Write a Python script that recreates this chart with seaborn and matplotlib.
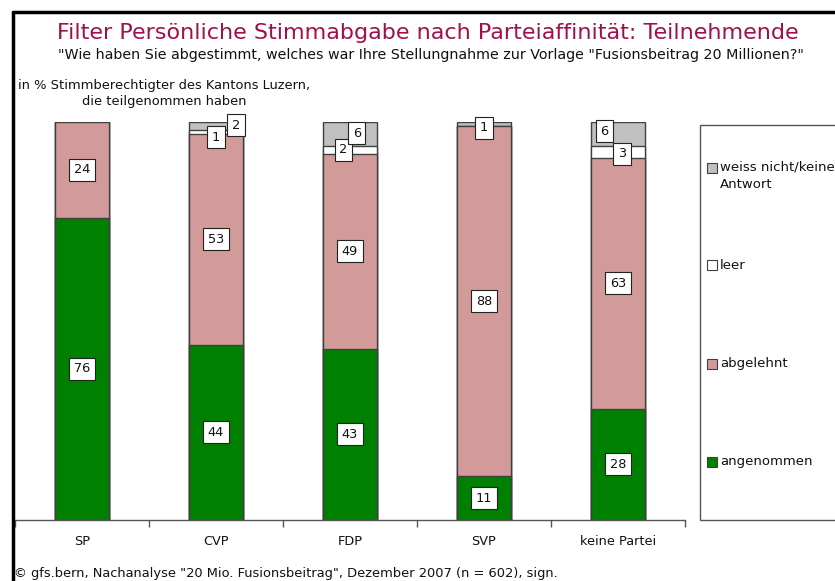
import matplotlib
matplotlib.use("Agg")
import matplotlib.pyplot as plt
import seaborn as sns
import pandas as pd
import numpy as np
from matplotlib.patches import Rectangle
from matplotlib.lines import Line2D

categories = ["SP", "CVP", "FDP", "SVP", "keine Partei"]
angenommen = [76, 44, 43, 11, 28]
abgelehnt = [24, 53, 49, 88, 63]
leer = [0, 1, 2, 0, 3]
weiss_nicht = [0, 2, 6, 1, 6]

series_names = ["angenommen", "abgelehnt", "leer", "weiss nicht/keine\nAntwort"]
colors = ["#008000", "#D39A9A", "#FFFFFF", "#C0C0C0"]

sns.set_theme(style="white")
plt.rcParams["font.family"] = ["DejaVu Sans"]

fig = plt.figure(figsize=(8.35, 5.81), dpi=100)
ax = fig.add_axes([15/835, 1-520/581, 670/835, 398/581])

df = pd.DataFrame({"Partei": categories, "angenommen": angenommen,
                   "abgelehnt": abgelehnt, "leer": leer, "wn": weiss_nicht})
cols = ["angenommen", "abgelehnt", "leer", "wn"]
cum = df[cols].cumsum(axis=1)

# draw from top cumulative downward so lower segments overlay
for i in range(3, -1, -1):
    sns.barplot(x=df["Partei"], y=cum[cols[i]], color=colors[i], ax=ax,
                width=0.41, edgecolor="#404040", linewidth=1.0,
                saturation=1)

ax.set_ylim(0, 100)
ax.set_xlim(-0.5, 4.5)
ax.set_ylabel("")
ax.set_xlabel("")
ax.set_yticks([])
for s in ["left", "right", "top"]:
    ax.spines[s].set_visible(False)
ax.spines["bottom"].set_color("#555555")
ax.spines["bottom"].set_linewidth(1.0)
ax.set_xticks(range(len(categories)))
ax.set_xticklabels(categories, fontsize=9.3, color="#111111")
ax.tick_params(axis="x", which="major", length=0, pad=11)
ax.set_xticks(np.arange(-0.5, 5, 1), minor=True)
ax.tick_params(axis="x", which="minor", length=5, width=1, color="#555555",
               direction="out", bottom=True)

# value labels
bbox = dict(boxstyle="square,pad=0.35", fc="white", ec="#222222", lw=0.8)
small_dx = {("CVP", "leer"): 0.0, ("CVP", "wn"): 0.15,
            ("FDP", "leer"): -0.05, ("FDP", "wn"): 0.05,
            ("SVP", "wn"): 0.0,
            ("keine Partei", "leer"): 0.03, ("keine Partei", "wn"): -0.10}
small_dy = {("CVP", "leer"): -1.3, ("CVP", "wn"): 0.2,
            ("FDP", "wn"): 0.2, ("SVP", "wn"): -1.0,
            ("keine Partei", "leer"): -0.5, ("keine Partei", "wn"): 0.7}
for j, cat in enumerate(categories):
    base = 0
    for c in cols:
        v = df.loc[j, c]
        if v > 0:
            cy = base + v / 2
            dx = small_dx.get((cat, c), 0)
            dy = small_dy.get((cat, c), 0)
            ax.text(j + dx, cy + dy, f"{v}", ha="center", va="center",
                    fontsize=9.3, color="#111111", bbox=bbox, clip_on=False,
                    zorder=10)
        base += v

# frame lines
fig.add_artist(Line2D([13/835, 13/835], [0, 1-12/581], color="black",
                      lw=2.5, transform=fig.transFigure))
fig.add_artist(Line2D([13/835, 1], [1-12/581, 1-12/581], color="black",
                      lw=2.5, transform=fig.transFigure))

fig.text(428/835, 1-33/581,
         "Filter Persönliche Stimmabgabe nach Parteiaffinität: Teilnehmende",
         ha="center", va="center", fontsize=16, color="#A0104A")
fig.text(431/835, 1-55/581,
         "\"Wie haben Sie abgestimmt, welches war Ihre Stellungnahme zur Vorlage \"Fusionsbeitrag 20 Millionen?\"",
         ha="center", va="center", fontsize=10.3, color="#111111")
fig.text(164/835, 1-93/581,
         "in % Stimmberechtigter des Kantons Luzern,\ndie teilgenommen haben",
         ha="center", va="center", fontsize=9.4, color="#111111",
         linespacing=1.3)
fig.text(14/835, 1-574/581,
         "© gfs.bern, Nachanalyse \"20 Mio. Fusionsbeitrag\", Dezember 2007 (n = 602), sign.",
         ha="left", va="center", fontsize=9.4, color="#111111")

# legend box
fig.add_artist(Rectangle((700/835, 1-520/581), 150/835, 395/581,
                         transform=fig.transFigure, fc="white",
                         ec="#555555", lw=1.0))
leg_y = [462, 364, 265, 168]
for name, col, y in zip(series_names, colors, leg_y):
    fig.add_artist(Rectangle((707/835, 1-(y+5)/581), 10/835, 10/581,
                             transform=fig.transFigure, fc=col,
                             ec="#404040", lw=0.8))
    if "\n" in name:
        fig.text(720/835, 1-(y - 7)/581, name, ha="left", va="top",
                 fontsize=9.5, color="#111111", linespacing=1.35)
    else:
        fig.text(720/835, 1-y/581, name, ha="left", va="center",
                 fontsize=9.5, color="#111111")

fig.savefig("out.png", dpi=100)
